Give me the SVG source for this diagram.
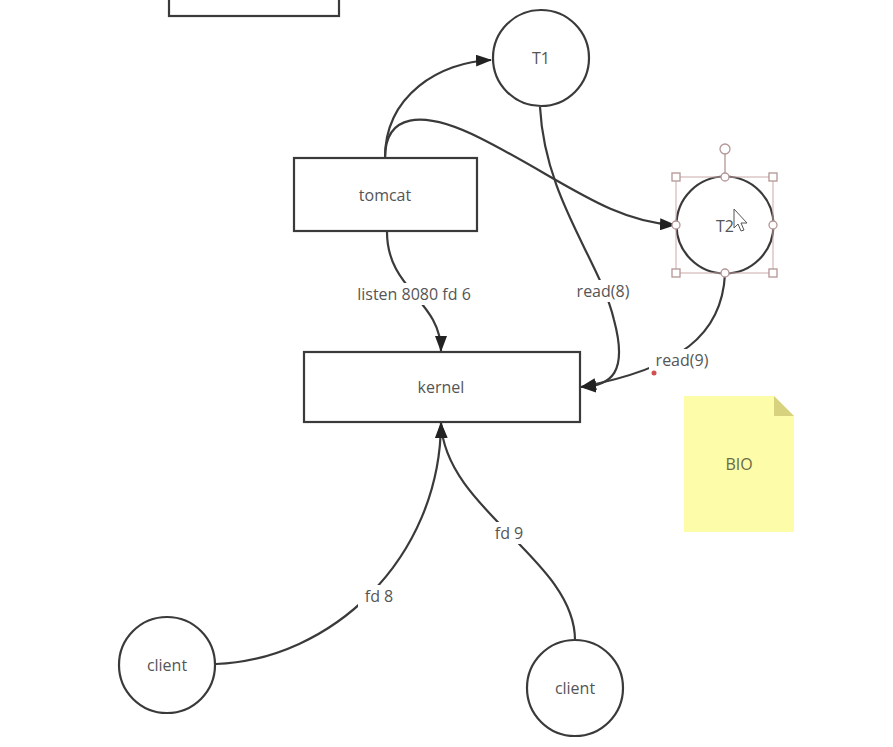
<svg xmlns="http://www.w3.org/2000/svg" width="893" height="747" viewBox="0 0 893 747">
<style>
.shape{fill:#fff;stroke:#3a3a3a;stroke-width:2.2}
.lbl{font-family:"Open Sans","Noto Sans",sans-serif;font-size:16px;fill:#555;text-anchor:middle}
.conn{fill:none;stroke:#3a3a3a;stroke-width:2.2}
.lblbg{fill:#fff}
.sel{fill:#fff;stroke:#b59595;stroke-width:1.3}
</style>
<defs>
<marker id="arr" markerUnits="userSpaceOnUse" markerWidth="16" markerHeight="12" refX="15" refY="6" orient="auto">
<path d="M0,0 L16,6 L0,12 z" fill="#222"/>
</marker>
</defs>
<rect width="893" height="747" fill="#fff"/>
<g id="connectors">
<path class="conn" d="M385,158 C385,95 440,62 491,60" marker-end="url(#arr)"/>
<path class="conn" d="M385,158 C385,115 420,108 480,138 C560,178 610,222 675,225" marker-end="url(#arr)"/>
<path class="conn" d="M387,232 C387,290 441,300 441,351" marker-end="url(#arr)"/>
<path class="conn" d="M540,107 C545,200 600,260 614,320 C628,372 612,386 581,387" marker-end="url(#arr)"/>
<path class="conn" d="M725,274 C722,335 680,368 581,387" marker-end="url(#arr)"/>
<path class="conn" d="M216,664 C330,660 440,560 441,423" marker-end="url(#arr)"/>
<path class="conn" d="M575,640 C575,560 445,510 441,423" marker-end="url(#arr)"/>
<rect class="lblbg" x="345" y="283" width="138" height="22"/>
<text class="lbl" x="414" y="300">listen 8080 fd 6</text>
<rect class="lblbg" x="570" y="280" width="66" height="22"/>
<text class="lbl" x="603" y="297">read(8)</text>
<rect class="lblbg" x="649" y="349" width="66" height="22"/>
<text class="lbl" x="682" y="366">read(9)</text>
<circle cx="654" cy="373" r="2.5" fill="#d05050"/>
<rect class="lblbg" x="358" y="585" width="42" height="22"/>
<text class="lbl" x="379" y="602">fd 8</text>
<rect class="lblbg" x="488" y="522" width="42" height="22"/>
<text class="lbl" x="509" y="539">fd 9</text>
</g>
<g id="top-box">
<rect class="shape" x="169" y="-10" width="170" height="26"/>
</g>
<g id="T1">
<circle class="shape" cx="541" cy="58" r="48"/>
<text class="lbl" x="541" y="64">T1</text>
</g>
<g id="tomcat">
<rect class="shape" x="294" y="158" width="183" height="73"/>
<text class="lbl" x="385" y="201">tomcat</text>
</g>
<g id="T2">
<circle class="shape" cx="725" cy="225" r="48.5"/>
<text class="lbl" x="725" y="232">T2</text>
<rect x="676" y="177" width="97" height="96" fill="none" stroke="#c9a9a9" stroke-width="1"/>
<line x1="725" y1="154" x2="725" y2="177" stroke="#b59595" stroke-width="1.3"/>
<circle class="sel" cx="725" cy="149" r="5"/>
<rect class="sel" x="672" y="173" width="8" height="8"/>
<rect class="sel" x="769" y="173" width="8" height="8"/>
<rect class="sel" x="672" y="269" width="8" height="8"/>
<rect class="sel" x="769" y="269" width="8" height="8"/>
<circle class="sel" cx="725" cy="177" r="4"/>
<circle class="sel" cx="676" cy="225" r="4"/>
<circle class="sel" cx="773" cy="225" r="4"/>
<circle class="sel" cx="725" cy="273" r="4"/>
<path d="M734,209 L734,228 L738,224 L741,231 L744,230 L741,223 L747,223 z" fill="#fff" stroke="#555" stroke-width="1"/>
</g>
<g id="kernel">
<rect class="shape" x="304" y="352" width="276" height="70"/>
<text class="lbl" x="441" y="393">kernel</text>
</g>
<g id="BIO">
<path d="M684,396 L774,396 L794,416 L794,532 L684,532 z" fill="#fdfca9"/>
<path d="M774,396 L794,416 L774,416 z" fill="#d6d27e"/>
<text class="lbl" x="739" y="470" style="fill:#6a6a45">BIO</text>
</g>
<g id="client1">
<circle class="shape" cx="167" cy="665" r="48"/>
<text class="lbl" x="167" y="671">client</text>
</g>
<g id="client2">
<circle class="shape" cx="575" cy="688" r="48"/>
<text class="lbl" x="575" y="694">client</text>
</g>
</svg>
